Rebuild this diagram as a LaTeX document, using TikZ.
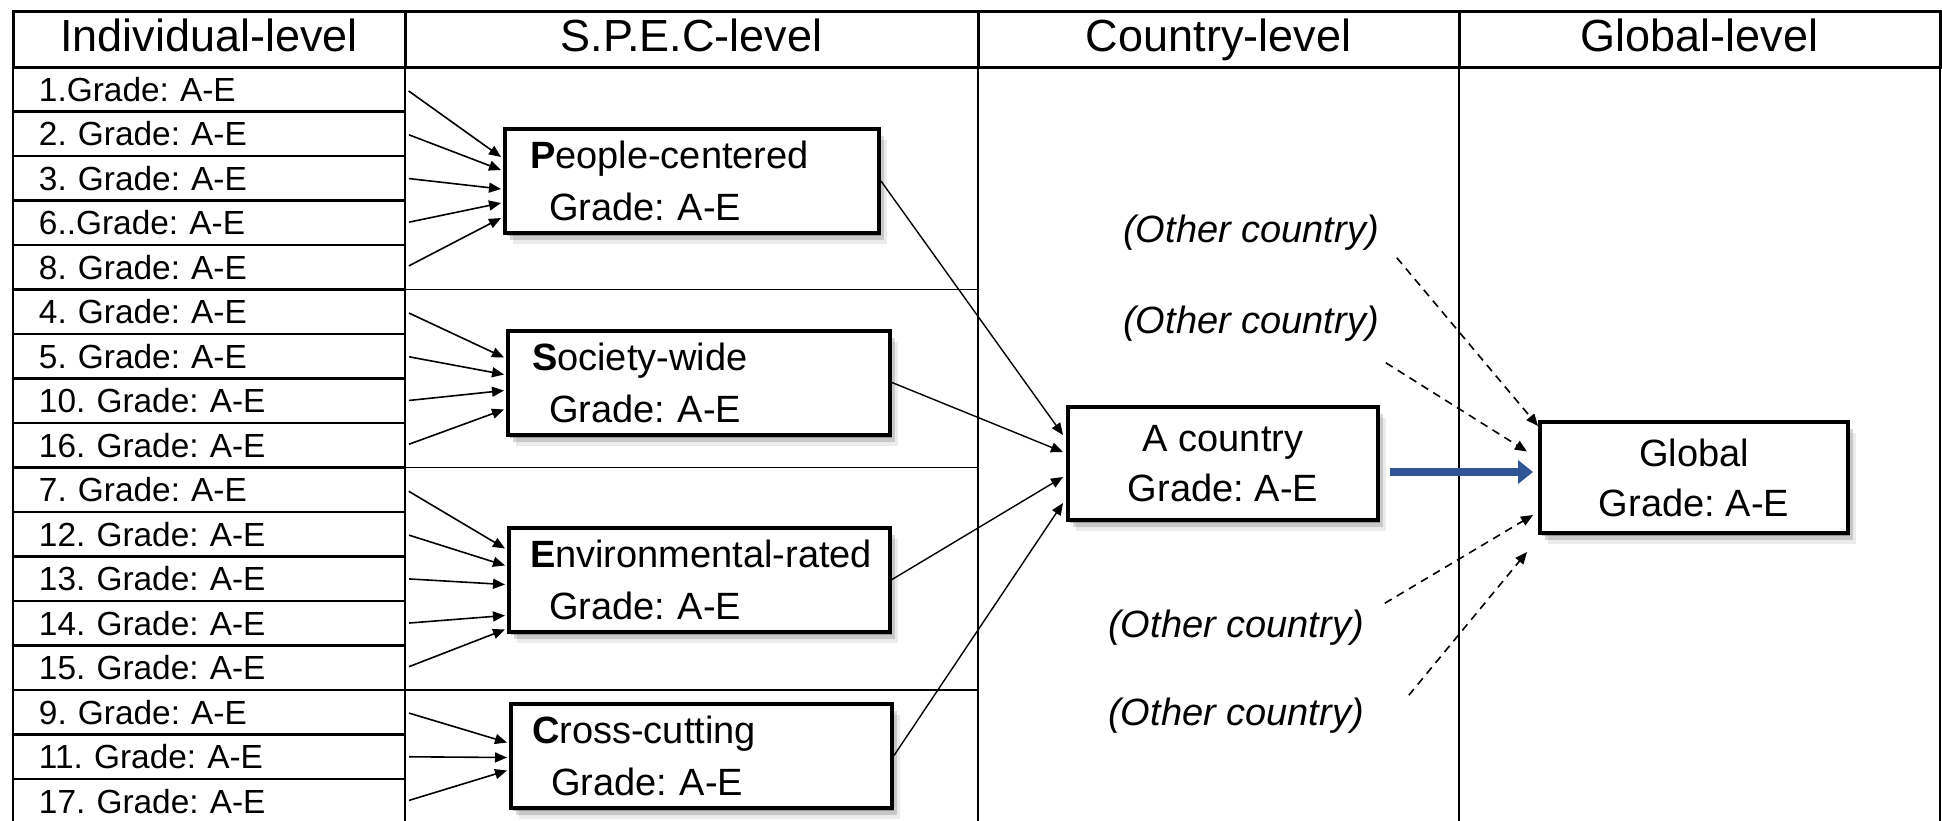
\documentclass[tikz,border=0pt]{standalone}
\usepackage{xcolor}
\usepackage{fontspec}
\usepackage{tikz}
\usetikzlibrary{arrows.meta,calc,shadows}
\setmainfont{Liberation Sans}
\frenchspacing
\definecolor{pushblue}{RGB}{47,85,151}

\begin{document}
\begin{tikzpicture}[x=0.5pt,y=-0.5pt,
            outline/.style={line width=1.5pt},
            divider/.style={line width=1.1pt},
            groupline/.style={line width=0.9pt},
            head/.style={font=\fontsize{22.5}{26}\selectfont,text height=16.5pt,text depth=4.5pt},
            cell/.style={draw,line width=1.2pt,text width=170pt,inner xsep=13pt,inner ysep=0pt,minimum height=22.25pt,align=left,font=\fontsize{16.7}{19}\selectfont},
            soft/.style={drop shadow={shadow xshift=1pt,shadow yshift=-1.5pt,opacity=.25,fill=black},drop shadow={shadow xshift=2.5pt,shadow yshift=-3.5pt,opacity=.15,fill=black},drop shadow={shadow xshift=4pt,shadow yshift=-5.5pt,opacity=.08,fill=black}},
            spec/.style={draw,line width=2pt,fill=white,soft,text width=#1,minimum height=52pt,inner xsep=0pt,inner ysep=2pt,align=left,font=\fontsize{19}{26}\selectfont},
            tierbox/.style={draw,line width=2pt,fill=white,soft,align=center,font=\fontsize{19}{25}\selectfont},
            otherlabel/.style={font=\fontsize{19}{22}\selectfont\itshape},
            feed/.style={-{Triangle[length=6pt,width=5pt]},line width=0.8pt,shorten <=1.5pt},
            link/.style={-{Triangle[length=6pt,width=5pt]},line width=0.7pt},
            hint/.style={-{Triangle[length=6pt,width=5pt]},line width=0.8pt,dash pattern=on 4pt off 3pt},
            push/.style={-{Triangle[length=7.5pt,width=11.5pt]},line width=4pt,draw=pushblue}]
            \useasboundingbox (0,0) rectangle (1942,820);

            \draw[outline] (13,11) rectangle (405,67) node[pos=.5,head] (h1) {Individual-level};
            \draw[outline] (405,11) rectangle (978,67) node[pos=.5,head] (h2) {S.P.E.C-level};
            \draw[outline] (978,11) rectangle (1459,67) node[pos=.5,head] (h3) {Country-level};
            \draw[outline] (1459,11) rectangle (1940,67) node[pos=.5,head] (h4) {Global-level};

            \draw[divider] (13,67) rectangle (405,830);
            \draw[divider] (405,67) rectangle (978,830);
            \draw[divider] (978,67) rectangle (1459,830);
            \draw[divider] (1459,67) rectangle (1940,830);

            \draw[groupline] (405,289.5) -- (978,289.5);
            \draw[groupline] (405,467.5) -- (978,467.5);
            \draw[groupline] (405,690) -- (978,690);

            \node[cell] (row1) at (209,89.25) {1.Grade: A-E};
            \node[cell] (row2) at (209,133.75) {2. Grade: A-E};
            \node[cell] (row3) at (209,178.25) {3. Grade: A-E};
            \node[cell] (row4) at (209,222.75) {6..Grade: A-E};
            \node[cell] (row5) at (209,267.25) {8. Grade: A-E};
            \node[cell] (row6) at (209,311.75) {4. Grade: A-E};
            \node[cell] (row7) at (209,356.25) {5. Grade: A-E};
            \node[cell] (row8) at (209,400.75) {10. Grade: A-E};
            \node[cell] (row9) at (209,445.25) {16. Grade: A-E};
            \node[cell] (row10) at (209,489.75) {7. Grade: A-E};
            \node[cell] (row11) at (209,534.25) {12. Grade: A-E};
            \node[cell] (row12) at (209,578.75) {13. Grade: A-E};
            \node[cell] (row13) at (209,623.25) {14. Grade: A-E};
            \node[cell] (row14) at (209,667.75) {15. Grade: A-E};
            \node[cell] (row15) at (209,712.25) {9. Grade: A-E};
            \node[cell] (row16) at (209,756.75) {11. Grade: A-E};
            \node[cell] (row17) at (209,801.25) {17. Grade: A-E};

            \node[spec=187pt] (people) at (692,181) {\hspace*{12.5pt}\textbf{P}eople-centered\\\hspace*{22pt}Grade: A-E};
            \node[spec=191pt] (society) at (699,382.5) {\hspace*{12pt}\textbf{S}ociety-wide\\\hspace*{20.5pt}Grade: A-E};
            \node[spec=190.5pt] (environ) at (699.5,579.5) {\hspace*{10.5pt}\textbf{E}nvironmental-rated\\\hspace*{20pt}Grade: A-E};
            \node[spec=190.5pt] (cross) at (701.5,755.5) {\hspace*{10.5pt}\textbf{C}ross-cutting\\\hspace*{20pt}Grade: A-E};

            \node[tierbox,minimum width=155pt,minimum height=56.5pt] (country) at (1223,463.5) {A country\\Grade: A-E};
            \node[tierbox,minimum width=154pt,minimum height=55.5pt] (global) at (1694,477.5) {Global\\Grade: A-E};

            \node[otherlabel] (other1) at (1251,233) {(Other country)};
            \node[otherlabel] (other2) at (1251,324) {(Other country)};
            \node[otherlabel] (other3) at (1236,628) {(Other country)};
            \node[otherlabel] (other4) at (1236,716) {(Other country)};

            \draw[feed] (row1.east) -- ($(people.west)+(-2,-24)$);
            \draw[feed] (row2.east) -- ($(people.west)+(-2,-11)$);
            \draw[feed] (row3.east) -- ($(people.west)+(-2,8)$);
            \draw[feed] (row4.east) -- ($(people.west)+(-2,22)$);
            \draw[feed] (row5.east) -- ($(people.west)+(-2,37)$);

            \draw[feed] (row6.east) -- ($(society.west)+(-2,-25)$);
            \draw[feed] (row7.east) -- ($(society.west)+(-2,-8)$);
            \draw[feed] (row8.east) -- ($(society.west)+(-2,8)$);
            \draw[feed] (row9.east) -- ($(society.west)+(-2,27)$);

            \draw[feed] (row10.east) -- ($(environ.west)+(-2,-31)$);
            \draw[feed] (row11.east) -- ($(environ.west)+(-2,-14)$);
            \draw[feed] (row12.east) -- ($(environ.west)+(-2,5)$);
            \draw[feed] (row13.east) -- ($(environ.west)+(-2,36)$);
            \draw[feed] (row14.east) -- ($(environ.west)+(-2,50)$);

            \draw[feed] (row15.east) -- ($(cross.west)+(-2,-13)$);
            \draw[feed] (row16.east) -- ($(cross.west)+(-2,2)$);
            \draw[feed] (row17.east) -- ($(cross.west)+(-2,15)$);

            \draw[link] (people.east) -- ($(country.west)+(-3,-28.5)$);
            \draw[link] (society.east) -- ($(country.west)+(-3,-11.5)$);
            \draw[link] (environ.east) -- ($(country.west)+(-3,13.5)$);
            \draw[link] (cross.east) -- ($(country.west)+(-3,39.5)$);

            \draw[push] ($(country.east)+(10,8.5)$) -- ($(global.west)+(-5,-5.5)$);

            \draw[hint] ([xshift=5.5pt]other1.south east) -- ($(global.north west)+(0,6)$);
            \draw[hint] ([yshift=-7pt]other2.south east) -- ($(global.west)+(-11,-26)$);
            \draw[hint] ([xshift=7pt]other3.north east) -- ($(global.west)+(-5,37.5)$);
            \draw[hint] ([xshift=19pt,yshift=-2pt]other4.north east) -- ($(global.south west)+(-11,17)$);
\end{tikzpicture}
\end{document}
